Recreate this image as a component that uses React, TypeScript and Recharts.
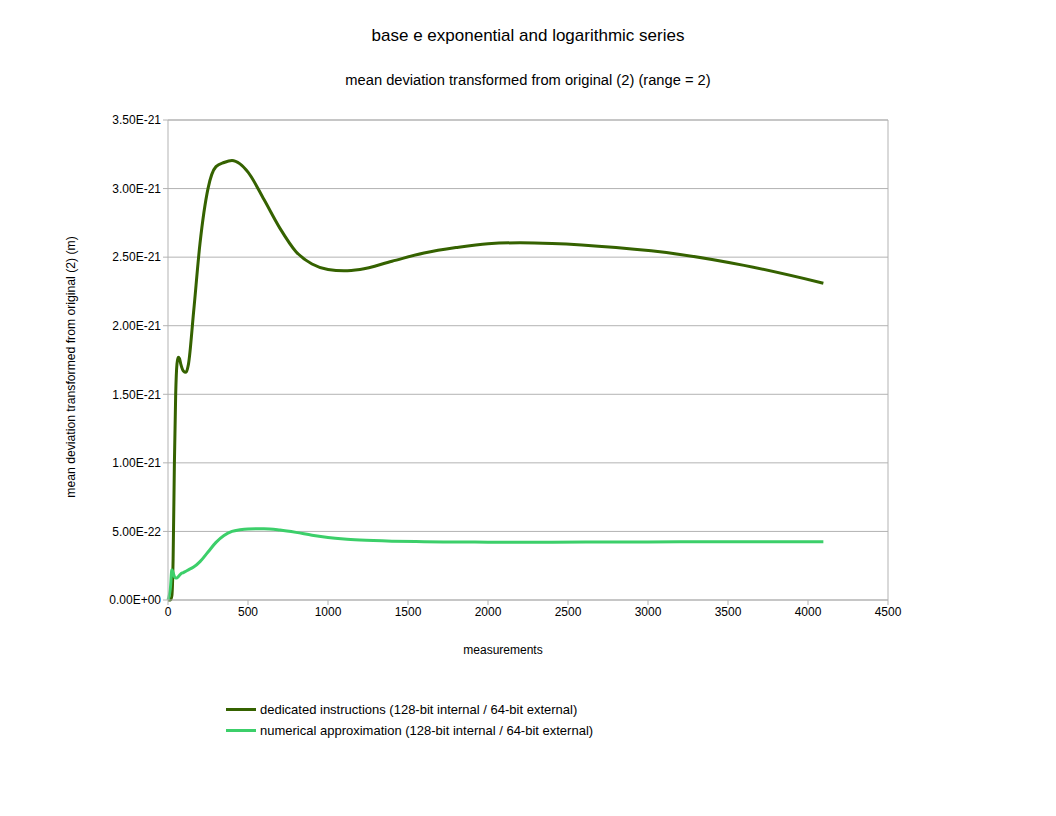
import { LineChart, Line, XAxis, YAxis, CartesianGrid, ReferenceLine } from "recharts"

const measurements = [0, 16, 24, 32, 40, 48, 56, 64, 72, 80, 96, 112, 128, 160, 200, 250, 300, 350, 400, 450, 500, 600, 700, 800, 900, 1000, 1100, 1200, 1400, 1600, 1800, 2000, 2200, 2400, 2800, 3200, 3600, 4096]
// values in units of 1e-21
const dedicated = [0, 0, 0.03, 0.3, 1.0, 1.5, 1.72, 1.77, 1.76, 1.72, 1.67, 1.66, 1.72, 2.1, 2.6, 3.0, 3.16, 3.19, 3.205, 3.18, 3.12, 2.92, 2.71, 2.54, 2.45, 2.41, 2.4, 2.41, 2.47, 2.53, 2.57, 2.598, 2.605, 2.6, 2.57, 2.52, 2.44, 2.31]
const numerical = [0, 0.1, 0.22, 0.2, 0.17, 0.16, 0.16, 0.17, 0.18, 0.19, 0.2, 0.21, 0.22, 0.24, 0.28, 0.35, 0.42, 0.47, 0.5, 0.512, 0.518, 0.52, 0.51, 0.493, 0.472, 0.455, 0.444, 0.437, 0.429, 0.425, 0.423, 0.422, 0.422, 0.422, 0.423, 0.424, 0.425, 0.425]
const xTicks = [0, 500, 1000, 1500, 2000, 2500, 3000, 3500, 4000, 4500]
const yTicks = [0, 0.5, 1, 1.5, 2, 2.5, 3, 3.5]

const data = measurements.map((m, i) => ({ m, a: dedicated[i] * 1e-21, b: numerical[i] * 1e-21 }))

const fmtY = (v: number) => {
  if (v === 0) return "0.00E+00"
  const e = Math.floor(Math.log10(Math.abs(v)) + 1e-9)
  const man = v / Math.pow(10, e)
  return `${man.toFixed(2)}E${e < 0 ? "-" : "+"}${String(Math.abs(e)).padStart(2, "0")}`
}

const font = "'Liberation Sans', Arial, sans-serif"

export default function App() {
  return (
    <div style={{ position: "absolute", left: 0, top: 0, width: 1056, height: 816, background: "#fff", fontFamily: font }}>
      <div style={{ position: "absolute", top: 26, left: 0, width: 1056, textAlign: "center", fontSize: 17 }}>base e exponential and logarithmic series</div>
      <div style={{ position: "absolute", top: 72, left: 0, width: 1056, textAlign: "center", fontSize: 14.7 }}>mean deviation transformed from original (2) (range = 2)</div>
      <div style={{ position: "absolute", top: 643, left: 143, width: 720, textAlign: "center", fontSize: 12 }}>measurements</div>
      <div style={{ position: "absolute", left: 71, top: 367, transform: "translate(-50%, -50%) rotate(-90deg)", whiteSpace: "nowrap", fontSize: 12.2 }}>mean deviation transformed from original (2) (m)</div>
      <LineChart width={1056} height={816} data={data} margin={{ top: 120, right: 168, left: 58, bottom: 186 }}>
        <CartesianGrid stroke="#b3b3b3" vertical={false} />
        <XAxis dataKey="m" type="number" domain={[0, 4500]} ticks={xTicks} interval={0} height={30}
          tick={{ fill: "#000", fontSize: 12, fontFamily: font }} stroke="#b3b3b3" tickSize={5} />
        <YAxis type="number" domain={[0, 3.5e-21]} ticks={yTicks.map((t) => t * 1e-21)} interval={0} width={110}
          tickFormatter={fmtY} tick={{ fill: "#000", fontSize: 12, fontFamily: font }} stroke="#b3b3b3" tickSize={5} />
        <ReferenceLine x={4500} stroke="#b3b3b3" />
        <Line dataKey="a" type="monotone" stroke="#356200" strokeWidth={3} dot={false} isAnimationActive={false} />
        <Line dataKey="b" type="monotone" stroke="#3ccf6a" strokeWidth={3} dot={false} isAnimationActive={false} />
      </LineChart>
      <div style={{ position: "absolute", left: 226, top: 699, fontSize: 13 }}>
        <div style={{ display: "flex", alignItems: "center", height: 21 }}>
          <span style={{ display: "inline-block", width: 30, height: 3, background: "#356200", marginRight: 4 }} />
          dedicated instructions (128-bit internal / 64-bit external)
        </div>
        <div style={{ display: "flex", alignItems: "center", height: 21 }}>
          <span style={{ display: "inline-block", width: 30, height: 3, background: "#3ccf6a", marginRight: 4 }} />
          numerical approximation (128-bit internal / 64-bit external)
        </div>
      </div>
    </div>
  )
}
